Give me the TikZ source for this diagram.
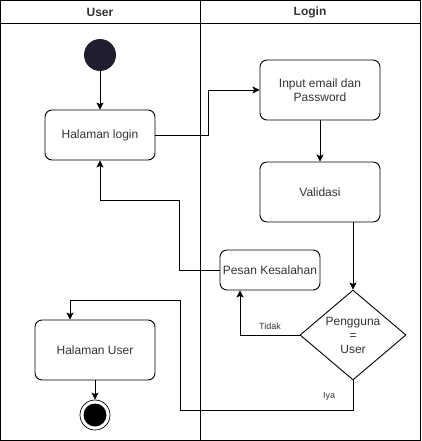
\documentclass[tikz,border=0pt]{standalone}
\usepackage{fontspec}
\setmainfont{Liberation Sans}
\usetikzlibrary{arrows.meta,shapes.geometric}
\definecolor{txt}{RGB}{51,51,51}
\definecolor{startfill}{RGB}{30,30,46}
\begin{document}
\begin{tikzpicture}[x=1pt,y=-1pt,
  line width=0.9pt,
  act/.style={draw, rounded corners=7pt, fill=white, text=txt, font=\fontsize{12}{14}\selectfont, align=center, inner sep=0pt},
  dec/.style={draw, diamond, fill=white, text=txt, font=\fontsize{12}{14}\selectfont, align=center, inner sep=0pt, minimum width=106pt, minimum height=90pt, aspect=1.18},
  arr/.style={-{Stealth[length=7pt,width=7pt,inset=1.5pt]}},
  lbl/.style={text=txt, font=\fontsize{9}{10}\selectfont, inner sep=0pt},
  hdr/.style={text=txt, font=\bfseries\fontsize{12}{14}\selectfont, inner sep=0pt}]
\useasboundingbox (0,0) rectangle (421,441);
% swimlanes
\draw (0.5,0.5) rectangle (420.5,440.5);
\draw (0.5,23) -- (420.5,23);
\draw (200.5,0.5) -- (200.5,440.5);
\node[hdr] (hu) at (100,12) {User};
\node[hdr] (hl) at (310,12) {Login};
% nodes
\node[circle, draw=startfill, fill=startfill, minimum size=31pt, inner sep=0pt] (start) at (100,55) {};
\node[act, minimum width=110pt, minimum height=50pt] (login) at (100,135) {Halaman login};
\node[act, minimum width=120pt, minimum height=60pt] (input) at (320,90) {Input email dan\\Password};
\node[act, minimum width=120pt, minimum height=60pt] (valid) at (320,192) {Validasi};
\node[act, minimum width=100pt, minimum height=40pt] (pesan) at (270,270) {Pesan Kesalahan};
\node[dec] (dia) at (353,335) {Pengguna\\=\\User};
\node[act, minimum width=120pt, minimum height=60pt] (huser) at (95,350) {Halaman User};
\node[circle, draw, line width=0.7pt, fill=white, minimum size=30pt, inner sep=0pt] (end) at (95,415) {};
\node[circle, fill=black, minimum size=23pt, inner sep=0pt] (endin) at (end.center) {};
% connectors
\draw[arr] (start) -- (login);
\draw[arr] (login.east) -- ++(53,0) |- (input.west);
\draw[arr] (input) -- (valid);
\draw[arr] (valid.south -| dia.north) -- (dia.north);
\draw[arr] (dia.west) -| ([xshift=-30pt]pesan.south);
\draw[arr] (pesan.west) -- ++(-40,0) -- ++(0,-70) -| (login.south);
\draw[arr] (dia.south) -- ++(0,30) -| ++(-173,-110) -| (huser.north west -| 70,0);
\draw[arr] (huser) -- (end);
% labels
\node[lbl] (ltidak) at (270,326) {Tidak};
\node[lbl] (liya) at (329,396) {Iya};
\end{tikzpicture}
\end{document}
